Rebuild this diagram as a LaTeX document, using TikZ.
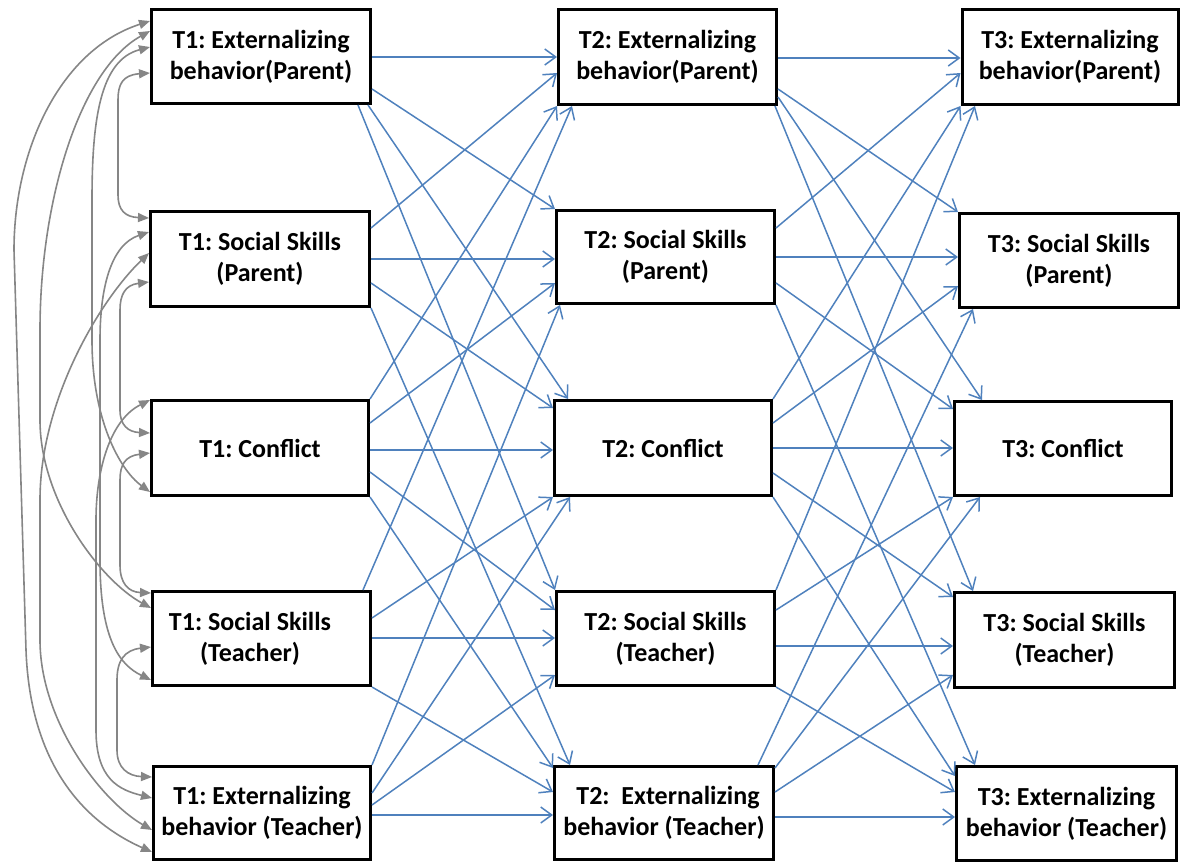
\documentclass[tikz,border=0pt]{standalone}
\usepackage{fontspec}
\setmainfont{Carlito}
\usetikzlibrary{arrows.meta}
\definecolor{pathblue}{HTML}{4F81BD}
\definecolor{corgray}{HTML}{868686}
\frenchspacing
\begin{document}
\begin{tikzpicture}[x=1pt,y=-1pt,
  lbl/.style={align=center,inner sep=0pt,font=\fontsize{26}{31}\selectfont\bfseries},
  box/.style={lbl,draw=black,line width=3pt,fill=white},
  path/.style={draw=pathblue,line width=1.5pt,-{Straight Barb[length=11pt,width=16pt,line width=1.5pt]}},
  cor/.style={draw=corgray,line width=1.6pt,{Triangle[length=11pt,width=9pt]}-{Triangle[length=11pt,width=9pt]}}]
\useasboundingbox (0,0) rectangle (1186,863);
% T1 column
\node[box,minimum width=219pt,minimum height=94pt] (t1ep) at (261,56.5) {T1: Externalizing\\behavior(Parent)};
\node[box,minimum width=219pt,minimum height=95pt] (t1sp) at (260,259) {T1: Social Skills\\(Parent)};
\node[box,minimum width=217pt,minimum height=95pt] (t1c) at (260,448) {T1: Conflict};
\node[box,minimum width=218pt,minimum height=94pt] (t1st) at (261.5,638.5) {};
\node[lbl] (t1stl) at (250,638.5) {T1: Social Skills\\(Teacher)};
\node[box,minimum width=217pt,minimum height=93pt] (t1et) at (262,813) {T1: Externalizing\\behavior (Teacher)};
% T2 column
\node[box,minimum width=218pt,minimum height=95pt] (t2ep) at (667.5,57) {T2: Externalizing\\behavior(Parent)};
\node[box,minimum width=218pt,minimum height=93pt] (t2sp) at (665.5,257) {T2: Social Skills\\(Parent)};
\node[box,minimum width=217pt,minimum height=95pt] (t2c) at (663,448) {T2: Conflict};
\node[box,minimum width=218pt,minimum height=94pt] (t2st) at (665.5,638.5) {T2: Social Skills\\(Teacher)};
\node[box,minimum width=219pt,minimum height=93pt] (t2et) at (664,813) {\hspace*{8pt}T2:\ \ Externalizing\\behavior (Teacher)};
% T3 column
\node[box,minimum width=216pt,minimum height=95pt] (t3ep) at (1070,57) {T3: Externalizing\\behavior(Parent)};
\node[box,minimum width=219pt,minimum height=94pt] (t3sp) at (1069,260.5) {T3: Social Skills\\(Parent)};
\node[box,minimum width=217pt,minimum height=94pt] (t3c) at (1063,448.5) {T3: Conflict};
\node[box,minimum width=220pt,minimum height=95pt] (t3st) at (1064.5,640) {T3: Social Skills\\(Teacher)};
\node[box,minimum width=220pt,minimum height=94pt] (t3et) at (1066.5,813.5) {T3: Externalizing\\behavior (Teacher)};

% T1 -> T2 paths
\draw[path] (t1ep.east |- 0,57) -- (t2ep.west |- 0,57);
\draw[path] (t1ep.east |- 0,89) -- (t2sp.north west);
\draw[path] (t1ep.south -| 368,0) -- (t2c.north -| 568,0);
\draw[path] (t1ep.south -| 358,0) -- (t2st.north west);
\draw[path] (t1sp.east |- 0,228) -- (t2ep.west |- 0,73);
\draw[path] (t1sp.east |- 0,259) -- (t2sp.west |- 0,259);
\draw[path] (t1sp.east |- 0,283) -- (t2c.west |- 0,408);
\draw[path] (t1sp.south east) -- (t2et.north -| 570,0);
\draw[path] (t1c.north east) -- (t2ep.south west);
\draw[path] (t1c.east |- 0,423) -- (t2sp.west |- 0,283);
\draw[path] (t1c.east |- 0,450) -- (t2c.west |- 0,450);
\draw[path] (t1c.east |- 0,472) -- (t2st.west |- 0,610);
\draw[path] (t1c.south east) -- (t2et.west |- 0,768);
\draw[path] (t1st.north -| 363,0) -- (t2ep.south -| 572,0);
\draw[path] (t1st.east |- 0,618) -- (t2c.south west);
\draw[path] (t1st.east |- 0,638) -- (t2st.west |- 0,638);
\draw[path] (t1st.south east) -- (t2et.west |- 0,792);
\draw[path] (t1et.north east) -- (t2sp.south -| 560,0);
\draw[path] (t1et.east |- 0,793) -- (t2c.south -| 570,0);
\draw[path] (t1et.east |- 0,805) -- (t2st.west |- 0,675);
\draw[path] (t1et.east |- 0,815) -- (t2et.west |- 0,815);

% T2 -> T3 paths
\draw[path] (t2ep.east |- 0,58) -- (t3ep.west |- 0,58);
\draw[path] (t2ep.east |- 0,89) -- (t3sp.north west);
\draw[path] (t2ep.east |- 0,97) -- (t3c.north -| 982,0);
\draw[path] (t2ep.south -| 775,0) -- (t3st.north -| 973,0);
\draw[path] (t2sp.east |- 0,228) -- (t3ep.west |- 0,73);
\draw[path] (t2sp.east |- 0,257) -- (t3sp.west |- 0,257);
\draw[path] (t2sp.east |- 0,283) -- (t3c.west |- 0,409);
\draw[path] (t2sp.south east) -- (t3et.north -| 975,0);
\draw[path] (t2c.north east) -- (t3ep.south west);
\draw[path] (t2c.east |- 0,423) -- (t3sp.west |- 0,286);
\draw[path] (t2c.east |- 0,448) -- (t3c.west |- 0,448);
\draw[path] (t2c.east |- 0,473) -- (t3st.west |- 0,597);
\draw[path] (t2c.south east) -- (t3et.west |- 0,776);
\draw[path] (t2st.north east) -- (t3ep.south -| 975,0);
\draw[path] (t2st.east |- 0,610) -- (t3c.south west);
\draw[path] (t2st.east |- 0,646) -- (t3st.west |- 0,646);
\draw[path] (t2st.south east) -- (t3et.west |- 0,792);
\draw[path] (t2et.north -| 758,0) -- (t3sp.south -| 973,0);
\draw[path] (t2et.east |- 0,768) -- (t3c.south -| 980,0);
\draw[path] (t2et.east |- 0,792) -- (t3st.west |- 0,675);
\draw[path] (t2et.east |- 0,817) -- (t3et.west |- 0,817);

% T1 correlations
\draw[cor] (t1ep.west |- 0,73) .. controls (122,75) and (118,85) .. (118,100) -- (118,195) .. controls (118,210) and (125,217) .. (t1sp.west |- 0,218);
\draw[cor] (t1sp.west |- 0,282) .. controls (125,285) and (120,295) .. (120,310) -- (120,410) .. controls (120,425) and (128,432) .. (t1c.west |- 0,433);
\draw[cor] (t1c.west |- 0,453) .. controls (125,456) and (120,465) .. (120,480) -- (120,565) .. controls (120,583) and (128,592) .. (t1st.west |- 0,593);
\draw[cor] (t1st.west |- 0,647) .. controls (125,650) and (117,660) .. (117,680) -- (117,750) .. controls (117,768) and (128,776) .. (t1et.west |- 0,777);
\draw[cor] (t1ep.west |- 0,47) .. controls (100,60) and (92,120) .. (92,200) -- (92,340) .. controls (92,420) and (120,470) .. (t1c.west |- 0,492);
\draw[cor] (t1ep.west |- 0,31) .. controls (80,70) and (40,200) .. (40,330) -- (40,420) .. controls (40,500) and (100,580) .. (t1st.west |- 0,608);
\draw[cor] (t1ep.west |- 0,21) .. controls (60,50) and (14,150) .. (14,250) -- (26,650) .. controls (30,760) and (80,820) .. (t1et.west |- 0,852);
\draw[cor] (t1sp.west |- 0,232) .. controls (110,245) and (100,290) .. (100,340) -- (100,560) .. controls (100,640) and (120,665) .. (t1st.west |- 0,680);
\draw[cor] (t1sp.west |- 0,253) .. controls (100,300) and (40,400) .. (40,500) -- (40,640) .. controls (40,720) and (100,800) .. (t1et.west |- 0,830);
\draw[cor] (t1c.west |- 0,400) .. controls (110,420) and (96,470) .. (96,520) -- (96,730) .. controls (96,780) and (120,790) .. (t1et.west |- 0,798);
\end{tikzpicture}
\end{document}
